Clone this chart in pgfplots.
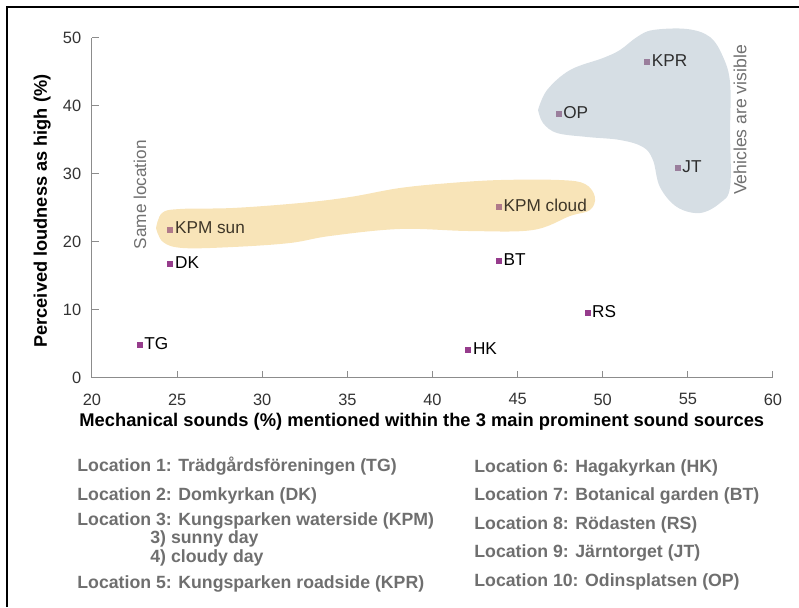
\documentclass[border=0pt]{standalone}
\usepackage{fontspec}
\setmainfont{Liberation Sans}
\usepackage{pgfplots}
\pgfplotsset{compat=1.18}
\definecolor{axisgray}{HTML}{8C8C8C}
\definecolor{ticktext}{HTML}{333333}
\definecolor{legendgray}{HTML}{6F6F6F}
\definecolor{notegray}{HTML}{707070}
\definecolor{blobyellow}{HTML}{F8E4B8}
\definecolor{blobblue}{HTML}{D6DEE4}
\definecolor{ptdark}{HTML}{963C8C}
\definecolor{ptyellow}{HTML}{B07A8A}
\definecolor{ptblue}{HTML}{9A7E9C}
\definecolor{labyellow}{HTML}{3E3628}
\definecolor{labblue}{HTML}{2E2E2E}
\newcommand{\lblfont}{\fontsize{8.6}{10}\selectfont}
% zero-size label box: text starts just right of the marker, centred on it
\newcommand{\ptlabel}[1]{\makebox[0pt][l]{\hspace{2.4pt}\raisebox{-0.5\height}[0pt][0pt]{#1}}}

\begin{document}
\begin{tikzpicture}
% pixel grid of the reference: (92,377.7) is the axis origin
\begin{scope}[x=0.5pt, y=-0.5pt, shift={(-46pt,188.85pt)}]
  \useasboundingbox (0,0) rectangle (799,607);
  \draw[line width=1pt] (6.7,607) -- (6.7,6.7) -- (799,6.7);
\end{scope}

\begin{axis}[
  at={(0,0)}, anchor=south west,
  scale only axis, width=340.5pt, height=170pt,
  xmin=20, xmax=60, ymin=0, ymax=50,
  axis x line*=bottom, axis y line*=left,
  axis line style={draw=axisgray, line width=0.5pt},
  xtick={20,25,...,60}, ytick={0,10,...,50},
  tick align=inside, major tick length=3.5pt,
  tick style={draw=axisgray, line width=0.5pt},
  ticklabel style={font=\fontsize{8.2}{9}\selectfont, text=ticktext},
  /pgf/number format/assume math mode=true,
  xticklabel style={yshift=-4.4pt},
  yticklabel style={xshift=-1.9pt},
  clip=false,
  mark size=1.25pt,
]
% shaded groups
\addplot[draw=none, fill=blobyellow, smooth, tension=0.6] coordinates {
  (23.76,22.01) (24.11,24.22) (25.17,24.81) (28.28,24.96) (32.22,25.69)
  (35.15,26.57) (38.09,27.90) (41.03,28.63) (43.96,29.07) (47.49,29.07)
  (48.96,28.49) (49.54,26.57) (49.25,24.66) (48.08,23.78) (45.90,21.72)
  (42.20,21.57) (38.09,21.87) (33.98,20.84) (31.63,19.81) (28.28,19.22)
  (25.35,19.07) (24.17,19.96) (23.76,22.01)};
\addplot[draw=none, fill=blobblue, smooth, tension=0.6] coordinates {
  (46.20,39.37) (46.73,42.31) (48.08,45.25) (50.01,47.01) (51.01,48.19)
  (52.01,50.10) (52.95,51.13) (54.95,51.28) (56.30,50.10) (57.07,47.16)
  (57.48,43.34) (57.48,35.99) (57.48,28.04) (56.89,25.69) (55.71,24.22)
  (54.36,25.10) (53.36,28.04) (52.95,32.01) (52.36,33.93) (51.01,34.96)
  (49.08,35.40) (47.31,35.99) (46.49,37.46) (46.20,39.37)};

% locations
\addplot[only marks, mark=square*, mark options={draw=ptdark, fill=ptdark},
  point meta=explicit symbolic, nodes near coords={\ptlabel{\pgfplotspointmeta}},
  every node near coord/.append style={inner sep=0pt, font=\lblfont, text=black}] coordinates {
  (22.8,4.8) [TG] (24.6,16.7) [DK] (43.9,17.2) [BT] (42.1,4.1) [HK] (49.1,9.6) [RS]};
\addplot[only marks, mark=square*, mark options={draw=ptyellow, fill=ptyellow},
  point meta=explicit symbolic, nodes near coords={\ptlabel{\pgfplotspointmeta}},
  every node near coord/.append style={inner sep=0pt, font=\lblfont, text=labyellow}] coordinates {
  (24.6,21.8) [KPM sun] (43.9,25.1) [KPM cloud]};
\addplot[only marks, mark=square*, mark options={draw=ptblue, fill=ptblue},
  point meta=explicit symbolic, nodes near coords={\ptlabel{\pgfplotspointmeta}},
  every node near coord/.append style={inner sep=0pt, font=\lblfont, text=labblue}] coordinates {
  (47.4,38.8) [OP] (52.6,46.5) [KPR] (54.4,30.9) [JT]};

\node[rotate=90, text=notegray, font=\lblfont] at (axis cs:22.82,26.9) {Same location};
\node[rotate=90, text=notegray, font=\fontsize{8.8}{10}\selectfont] at (axis cs:58.06,37.9) {Vehicles are visible};
\end{axis}

\begin{scope}[x=0.5pt, y=-0.5pt, shift={(-46pt,188.85pt)}]
  \node[anchor=base west, inner sep=0pt, font=\fontsize{9.17}{10}\selectfont\bfseries]
    at (79,426.7) {Mechanical sounds (\%) mentioned within the 3 main prominent sound sources};
  \node[rotate=90, anchor=base west, inner sep=0pt, font=\fontsize{9.1}{10}\selectfont\bfseries]
    at (47,348) {Perceived loudness as high (\%)};
  \begin{scope}[every node/.style={anchor=base west, inner sep=0pt, text=legendgray,
      font=\fontsize{8.85}{10}\selectfont\bfseries}]
    \node at (77,471) {Location 1: Trädgårdsföreningen (TG)};
    \node at (77,500.7) {Location 2: Domkyrkan (DK)};
    \node at (77,525.5) {Location 3: Kungsparken waterside (KPM)};
    % the node's base is that of its last line
    \node[align=left, font=\fontsize{8.85}{7.3}\selectfont\bfseries] at (150,562)
      {3) sunny day\\4) cloudy day};
    \node at (77,588.3) {Location 5: Kungsparken roadside (KPR)};
    \node at (474,472.7) {Location 6: Hagakyrkan (HK)};
    \node at (474,500.7) {Location 7: Botanical garden (BT)};
    \node at (474,529) {Location 8: Rödasten (RS)};
    \node at (474,557) {Location 9: Järntorget (JT)};
    \node at (474,586) {Location 10: Odinsplatsen (OP)};
  \end{scope}
\end{scope}
\end{tikzpicture}
\end{document}
